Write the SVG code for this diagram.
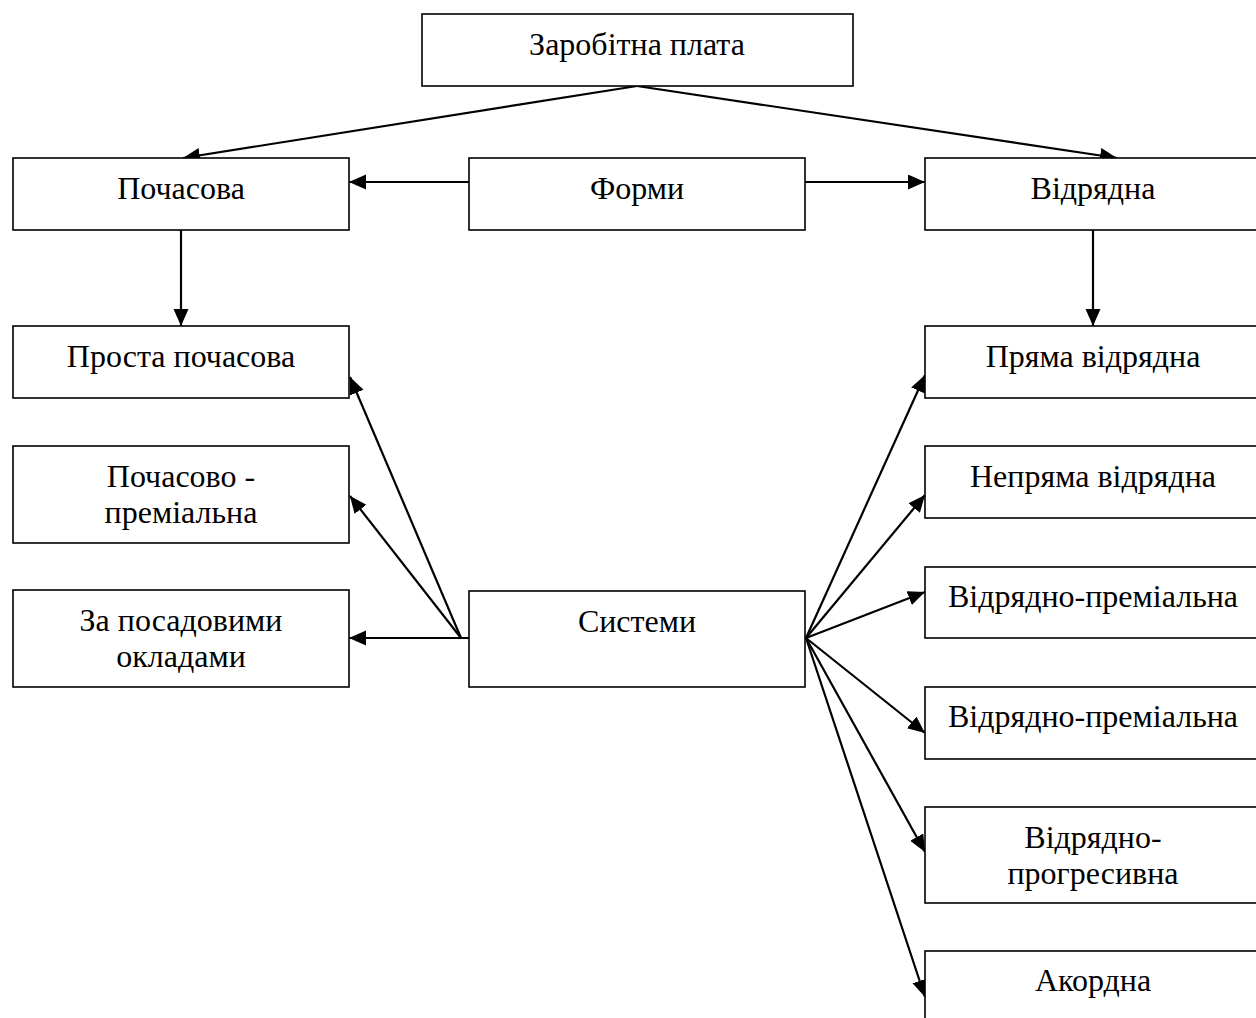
<svg xmlns="http://www.w3.org/2000/svg" width="1256" height="1018" viewBox="0 0 1256 1018">
<style>
.box{fill:#fff;stroke:#000;stroke-width:1.6}
.t{font-family:"Liberation Serif","Times New Roman",serif;font-size:32px;fill:#000;text-anchor:middle}
.c{stroke:#000;stroke-width:2.2;fill:none;marker-end:url(#ah)}
</style>
<defs>
<marker id="ah" markerUnits="userSpaceOnUse" markerWidth="18" markerHeight="16" refX="17" refY="7.5" orient="auto">
<path d="M0,0 L17,7.5 L0,15 z" fill="#000"/>
</marker>
</defs>
<rect width="1256" height="1018" fill="#fff"/>
<g id="connectors">
<line class="c" x1="637" y1="86" x2="183" y2="158"/>
<line class="c" x1="637" y1="86" x2="1117" y2="158"/>
<line class="c" x1="469" y1="182" x2="349" y2="182"/>
<line class="c" x1="805" y1="182" x2="925" y2="182"/>
<line class="c" x1="181" y1="230" x2="181" y2="326"/>
<line class="c" x1="1093" y1="230" x2="1093" y2="326"/>
<line class="c" x1="469" y1="638" x2="349" y2="638"/>
<line class="c" x1="461" y1="638" x2="350" y2="377"/>
<line class="c" x1="461" y1="638" x2="350" y2="496"/>
<line class="c" x1="806" y1="638" x2="925" y2="375"/>
<line class="c" x1="806" y1="638" x2="925" y2="495"/>
<line class="c" x1="806" y1="638" x2="925" y2="592"/>
<line class="c" x1="806" y1="638" x2="925" y2="733"/>
<line class="c" x1="806" y1="638" x2="925" y2="852"/>
<line class="c" x1="806" y1="638" x2="925" y2="997"/>
</g>
<g id="n-zarplata"><rect class="box" x="422" y="14" width="431" height="72"/><text class="t" x="637" y="55">Заробітна плата</text></g>
<g id="n-pochasova"><rect class="box" x="13" y="158" width="336" height="72"/><text class="t" x="181" y="199">Почасова</text></g>
<g id="n-formy"><rect class="box" x="469" y="158" width="336" height="72"/><text class="t" x="637" y="199">Форми</text></g>
<g id="n-vidriadna"><rect class="box" x="925" y="158" width="336" height="72"/><text class="t" x="1093" y="199">Відрядна</text></g>
<g id="n-prosta"><rect class="box" x="13" y="326" width="336" height="72"/><text class="t" x="181" y="367">Проста почасова</text></g>
<g id="n-priama"><rect class="box" x="925" y="326" width="336" height="72"/><text class="t" x="1093" y="367">Пряма відрядна</text></g>
<g id="n-pochasovo-prem"><rect class="box" x="13" y="446" width="336" height="97"/><text class="t" x="181" y="487">Почасово -</text><text class="t" x="181" y="523">преміальна</text></g>
<g id="n-nepriama"><rect class="box" x="925" y="446" width="336" height="72"/><text class="t" x="1093" y="487">Непряма відрядна</text></g>
<g id="n-vidr-prem-1"><rect class="box" x="925" y="567" width="336" height="71"/><text class="t" x="1093" y="607">Відрядно-преміальна</text></g>
<g id="n-posadovi"><rect class="box" x="13" y="590" width="336" height="97"/><text class="t" x="181" y="631">За посадовими</text><text class="t" x="181" y="667">окладами</text></g>
<g id="n-systemy"><rect class="box" x="469" y="591" width="336" height="96"/><text class="t" x="637" y="632">Системи</text></g>
<g id="n-vidr-prem-2"><rect class="box" x="925" y="687" width="336" height="72"/><text class="t" x="1093" y="727">Відрядно-преміальна</text></g>
<g id="n-vidr-progr"><rect class="box" x="925" y="807" width="336" height="96"/><text class="t" x="1093" y="848">Відрядно-</text><text class="t" x="1093" y="884">прогресивна</text></g>
<g id="n-akordna"><rect class="box" x="925" y="951" width="336" height="96"/><text class="t" x="1093" y="991">Акордна</text></g>
</svg>
